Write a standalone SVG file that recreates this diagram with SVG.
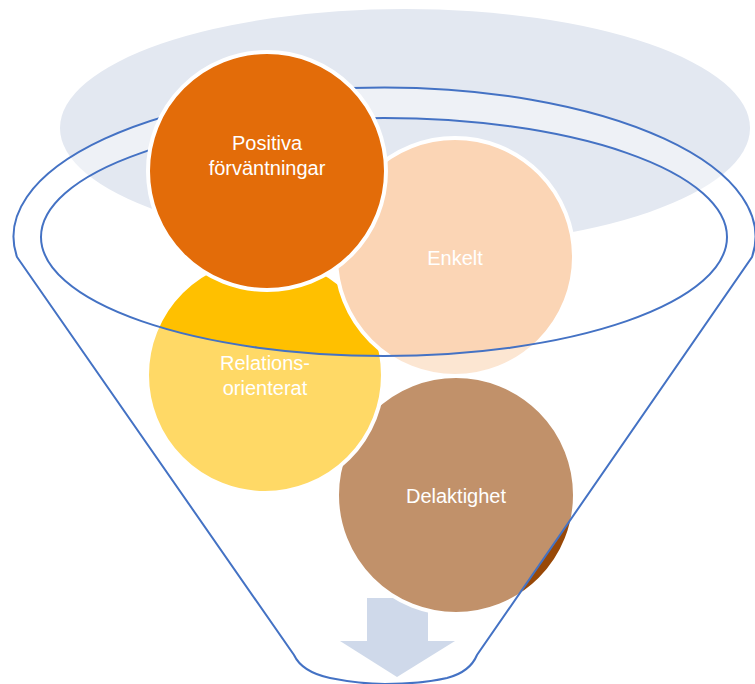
<svg xmlns="http://www.w3.org/2000/svg" width="755" height="684" viewBox="0 0 755 684">
<style>
.node{stroke:#FFFFFF;stroke-width:4}
.lbl{font-family:"Liberation Sans",Arial,sans-serif;font-size:20px;fill:#FFFFFF;text-anchor:middle}
.rim{fill:none;stroke:#4472C4;stroke-width:2}
</style>
<rect width="755" height="684" fill="#FFFFFF"/>
<g id="backdrop">
<ellipse cx="405" cy="128" rx="345" ry="119" fill="#E3E8F1"/>
</g>
<g id="connectors">
<path d="M367,598 L428,598 L428,641 L455,641 L397,677 L340,641 L367,641 Z" fill="#AFC0DC"/>
</g>
<g id="delaktighet">
<circle class="node" cx="456" cy="495" r="119" fill="#984807"/>
<text class="lbl" x="456" y="503">Delaktighet</text>
</g>
<g id="relationsorienterat">
<circle class="node" cx="265" cy="375" r="118" fill="#FFC000"/>
<text class="lbl" x="265" y="370">Relations-</text>
<text class="lbl" x="265" y="395">orienterat</text>
</g>
<g id="enkelt">
<circle class="node" cx="455" cy="257" r="119" fill="#FBD5B5"/>
<text class="lbl" x="455" y="265">Enkelt</text>
</g>
<g id="funnel">
<path fill="#FFFFFF" fill-opacity="0.4" fill-rule="evenodd" d="M17,257 L294,655 Q302,672 330,678 Q360,684 385,684 Q420,684 447,678 Q470,672 477,655 L752,257 A371 149 0 1 0 17,257 Z M41,237 A343 119 0 1 0 727,237 A343 119 0 1 0 41,237 Z"/>
<path class="rim" d="M17,257 L294,655 Q302,672 330,678 Q360,684 385,684 Q420,684 447,678 Q470,672 477,655 L752,257 A371 149 0 1 0 17,257 Z"/>
<ellipse class="rim" cx="384" cy="237" rx="343" ry="119"/>
</g>
<g id="positiva">
<circle class="node" cx="267" cy="171" r="119" fill="#E36C09"/>
<text class="lbl" x="267" y="150">Positiva</text>
<text class="lbl" x="267" y="175">förväntningar</text>
</g>
</svg>
